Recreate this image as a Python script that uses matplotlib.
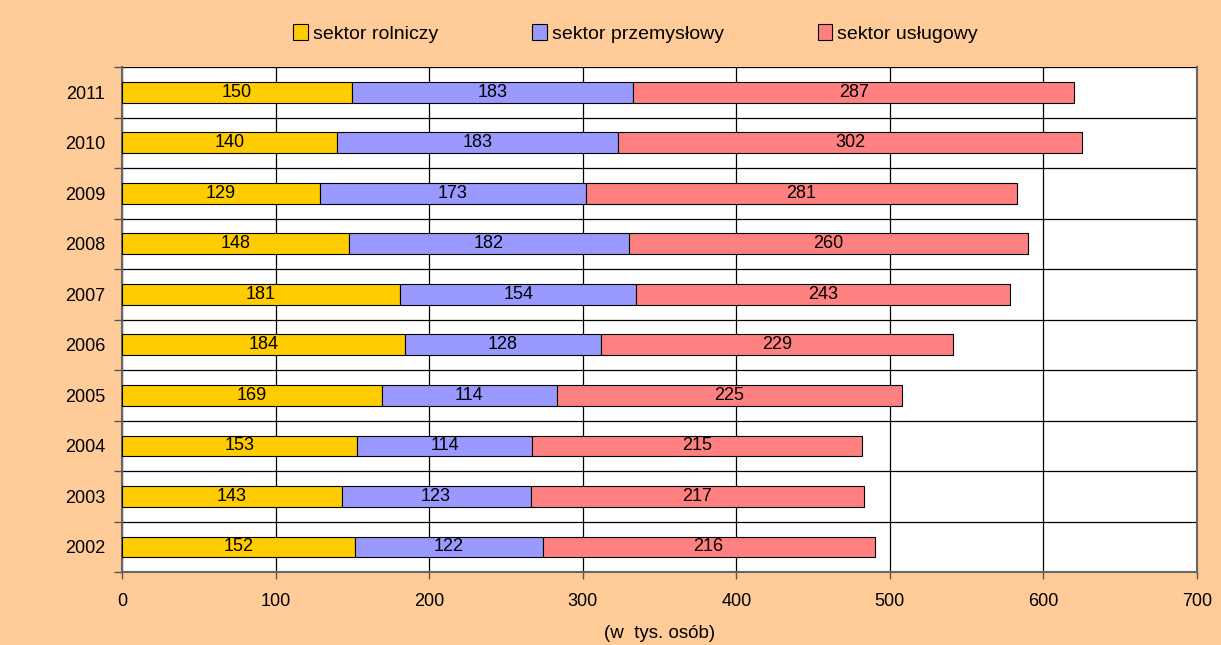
import matplotlib.pyplot as plt
import numpy as np

years = ["2002", "2003", "2004", "2005", "2006", "2007", "2008", "2009", "2010", "2011"]
rolniczy = [152, 143, 153, 169, 184, 181, 148, 129, 140, 150]
przemyslowy = [122, 123, 114, 114, 128, 154, 182, 173, 183, 183]
uslugowy = [216, 217, 215, 225, 229, 243, 260, 281, 302, 287]
labels = ["sektor rolniczy", "sektor przemysłowy", "sektor usługowy"]
colors = ["#FFCC00", "#9999FF", "#FF8080"]

plt.rcParams["font.family"] = ["Liberation Sans", "DejaVu Sans"]

fig = plt.figure(figsize=(12.21, 6.45), dpi=100, facecolor="#FFCC99")
ax = fig.add_axes([0.0999, 0.113, 0.8805, 0.783])
ax.set_facecolor("white")

y = np.arange(len(years))
left = np.zeros(len(years))
handles = []
for vals, lab, col in zip([rolniczy, przemyslowy, uslugowy], labels, colors):
    vals = np.array(vals)
    bars = ax.barh(y, vals, left=left, height=0.41, color=col, edgecolor="black",
                   linewidth=0.8, label=lab, zorder=3)
    handles.append(bars)
    for yi, l, v in zip(y, left, vals):
        ax.text(l + v / 2, yi, str(v), ha="center", va="center", fontsize=13, zorder=4)
    left = left + vals

ax.set_xlim(0, 700)
ax.set_ylim(-0.5, len(years) - 0.5)
ax.set_xticks(np.arange(0, 701, 100))
ax.set_yticks(y)
ax.set_yticklabels(years)
ax.set_yticks(np.arange(-0.5, len(years), 1), minor=True)
ax.tick_params(axis="y", which="major", length=0, pad=12, labelsize=13)
ax.tick_params(axis="y", which="minor", length=6, width=1, color="#555555")
ax.tick_params(axis="x", length=5, width=1, color="#555555", labelsize=13, pad=10)

ax.grid(axis="x", which="major", color="black", linewidth=0.9, zorder=1)
ax.grid(axis="y", which="minor", color="black", linewidth=0.9, zorder=1)

for side in ["left", "bottom", "right"]:
    ax.spines[side].set_color("#666666")
    ax.spines[side].set_linewidth(1.5)
ax.spines["top"].set_visible(False)

ax.set_xlabel("(w  tys. osób)", fontsize=13.5, labelpad=11)

fig.legend(handles=handles, labels=labels, loc="upper center", bbox_to_anchor=(0.5205, 0.99),
           ncol=3, frameon=False, fontsize=14, handlelength=0.75, handleheight=0.9,
           handletextpad=0.25, columnspacing=4.85)

fig.savefig("out.png", dpi=100, facecolor=fig.get_facecolor())
